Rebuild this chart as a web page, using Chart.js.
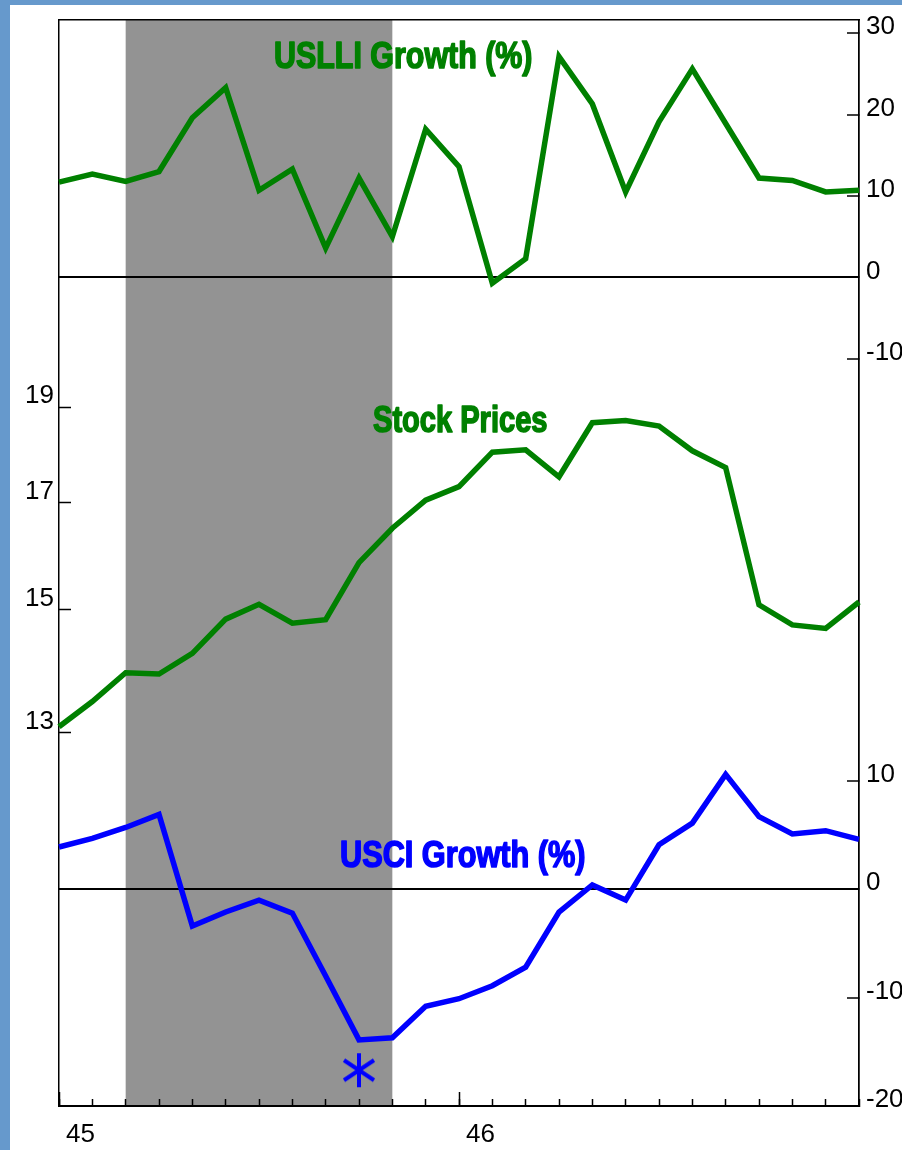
<!DOCTYPE html>
<html>
<head>
<meta charset="utf-8">
<script src="https://cdn.jsdelivr.net/npm/chart.js@4.4.1/dist/chart.umd.min.js"></script>
<style>
  html, body { margin: 0; padding: 0; }
  body { background: #6699cc; width: 902px; height: 1150px; overflow: hidden; position: relative; }
  #wrap { position: absolute; left: 10px; top: 5px; width: 892px; height: 1145px; background: #fff; }
</style>
</head>
<body>
<div id="wrap"><canvas id="chart"></canvas></div>
<script>
// monthly points, Jan 45 .. Jan 47
const months = [
  'Jan 45', 'Feb 45', 'Mar 45', 'Apr 45', 'May 45', 'Jun 45', 'Jul 45', 'Aug 45', 'Sep 45', 'Oct 45', 'Nov 45', 'Dec 45',
  'Jan 46', 'Feb 46', 'Mar 46', 'Apr 46', 'May 46', 'Jun 46', 'Jul 46', 'Aug 46', 'Sep 46', 'Oct 46', 'Nov 46', 'Dec 46',
  'Jan 47'
];
const xTickLabels = ['45', '', '', '', '', '', '', '', '', '', '', '',
                     '46', '', '', '', '', '', '', '', '', '', '', '', ''];

const uslliGrowth = [11.7, 12.7, 11.8, 13.0, 19.6, 23.3, 10.7, 13.3, 3.6, 12.2, 5.0, 18.2,
                     13.6, -0.7, 2.3, 27.1, 21.3, 10.5, 19.1, 25.6, 18.9, 12.2, 11.9, 10.5, 10.7];
const stockPrices = [13.09, 13.48, 13.94, 13.92, 14.26, 14.84, 15.10, 14.77, 14.83, 15.85, 16.50, 17.05,
                     17.32, 18.03, 18.08, 17.52, 18.66, 18.71, 18.59, 18.06, 17.71, 15.09, 14.74, 14.68, 15.14];
const usciGrowth = [3.9, 4.7, 5.7, 6.9, -3.4, -2.1, -1.0, -2.2, -8.0, -13.9, -13.7, -10.8,
                    -10.1, -8.9, -7.2, -2.1, 0.4, -1.0, 4.1, 6.1, 10.6, 6.7, 5.1, 5.4, 4.6];
// asterisk below the USCI trough
const troughMark = [null, null, null, null, null, null, null, null, null, -16.7, null, null,
                    null, null, null, null, null, null, null, null, null, null, null, null, null];

const recession = ['Mar 45', 'Nov 45'];

const uslliTicks = [-10, 0, 10, 20, 30];
const usciTicks = [-20, -10, 0, 10];
const stockTicks = [13, 15, 17, 19];

const uslliRange = [-101.7, 31.6];
const usciRange = [-20, 80.2];
const stockRange = [8.41, 29.85];

const GREEN = '#008000';
const BLUE = '#0000ff';

Chart.defaults.font.family = '"Liberation Sans", Arial, sans-serif';
Chart.defaults.font.size = 26;
Chart.defaults.color = '#000';

function makeAsterisk() {
  const c = document.createElement('canvas');
  c.width = 36; c.height = 36;
  const g = c.getContext('2d');
  g.strokeStyle = BLUE;
  g.lineWidth = 4;
  g.beginPath();
  g.moveTo(18, 1); g.lineTo(18, 35);
  g.moveTo(3, 8); g.lineTo(33, 28);
  g.moveTo(3, 28); g.lineTo(33, 8);
  g.stroke();
  return c;
}

// fixed box sizes so the plot area sits where the original one does
function fixSize(w, h) {
  return scale => {
    if (w !== null) scale.width = w;
    if (h !== null) scale.height = h;
    scale.paddingTop = scale.paddingBottom = scale.paddingLeft = scale.paddingRight = 0;
  };
}

const zeroLine = c => (c.tick && c.tick.value === 0) ? '#000' : 'rgba(0,0,0,0)';

// both right axes share one line: yC takes no room in the layout, then
// borrows yL's box so its labels are not clipped away
const sharedRightAxis = {
  id: 'sharedRightAxis',
  afterLayout(chart) {
    const c = chart.scales.yC, l = chart.scales.yL;
    c.left = l.left;
    c.right = l.right;
    c.width = l.width;
  }
};

const shading = {
  id: 'shading',
  beforeDraw(chart) {
    const {ctx, chartArea, scales} = chart;
    const x0 = scales.x.getPixelForValue(months.indexOf(recession[0]));
    const x1 = scales.x.getPixelForValue(months.indexOf(recession[1]));
    ctx.save();
    ctx.fillStyle = '#939393';
    ctx.fillRect(x0, chartArea.top, x1 - x0, chartArea.bottom - chartArea.top);
    ctx.restore();
  }
};

const titleLayout = [
  { text: 'USLLI Growth (%)', color: GREEN, x: 264, y: 63, w: 260 },
  { text: 'Stock Prices', color: GREEN, x: 363, y: 427, w: 176 },
  { text: 'USCI Growth (%)', color: BLUE, x: 330, y: 862, w: 247 }
];

const seriesTitles = {
  id: 'seriesTitles',
  afterDatasetsDraw(chart) {
    const ctx = chart.ctx;
    titleLayout.forEach(t => {
      ctx.save();
      ctx.font = 'bold 36px "Liberation Sans", Arial, sans-serif';
      const sx = (t.w - 1.5) / ctx.measureText(t.text).width;
      ctx.translate(t.x, t.y);
      ctx.scale(sx, 1);
      ctx.fillStyle = t.color;
      ctx.strokeStyle = t.color;
      ctx.lineWidth = 1.6;
      ctx.lineJoin = 'round';
      ctx.textBaseline = 'alphabetic';
      ctx.strokeText(t.text, 0, 0);
      ctx.fillText(t.text, 0, 0);
      ctx.restore();
    });
  }
};

const lineStyle = { borderWidth: 5.5, pointRadius: 0, tension: 0, fill: false };

new Chart(document.getElementById('chart'), {
  type: 'line',
  data: {
    labels: months,
    datasets: [
      { label: 'USLLI Growth (%)', data: uslliGrowth, yAxisID: 'yL', borderColor: GREEN, ...lineStyle },
      { label: 'Stock Prices', data: stockPrices, yAxisID: 'yS', borderColor: GREEN, ...lineStyle },
      { label: 'USCI Growth (%)', data: usciGrowth, yAxisID: 'yC', borderColor: BLUE, ...lineStyle },
      { label: 'trough', data: troughMark, yAxisID: 'yC', showLine: false,
        pointStyle: makeAsterisk(), pointRadius: 4, borderColor: BLUE, backgroundColor: BLUE }
    ]
  },
  options: {
    responsive: true,
    maintainAspectRatio: false,
    animation: false,
    layout: { padding: { top: 15, left: 0, right: 0, bottom: 0 } },
    plugins: { legend: { display: false }, tooltip: { enabled: false } },
    scales: {
      x: {
        type: 'category', position: 'bottom', weight: 1,
        grid: { drawOnChartArea: false, tickLength: -7, tickColor: '#000', tickWidth: 1.5 },
        border: { display: true, color: '#000', width: 2 },
        ticks: { autoSkip: false, maxRotation: 0, minRotation: 0, align: 'start', labelOffset: 7,
                 padding: 20, callback: (v, i) => xTickLabels[i] },
        afterFit: fixSize(null, 44)
      },
      xLong: {
        type: 'category', position: 'bottom', weight: 0,
        grid: { drawOnChartArea: false, tickLength: -14, tickWidth: 1.5,
                tickColor: c => xTickLabels[c.index] ? '#000' : 'rgba(0,0,0,0)' },
        border: { display: false },
        ticks: { display: false, autoSkip: false },
        afterFit: fixSize(null, 0)
      },
      xTop: {
        type: 'category', position: 'top',
        grid: { drawOnChartArea: false, drawTicks: false },
        border: { display: true, color: '#000', width: 1.5 },
        ticks: { display: false },
        afterFit: fixSize(null, 0)
      },
      yS: {
        type: 'logarithmic', position: 'left',
        min: stockRange[0], max: stockRange[1],
        afterBuildTicks: s => { s.ticks = stockTicks.map(v => ({ value: v })); },
        grid: { drawOnChartArea: false, tickLength: -12, tickColor: '#000', tickWidth: 1.5 },
        border: { display: true, color: '#000', width: 1.5 },
        ticks: { padding: 17, labelOffset: -11, callback: v => String(v) },
        afterFit: fixSize(49, null)
      },
      yC: {
        type: 'linear', position: 'right', weight: 0,
        min: usciRange[0], max: usciRange[1],
        afterBuildTicks: s => { s.ticks = usciTicks.map(v => ({ value: v })); },
        grid: { drawOnChartArea: true, color: zeroLine, lineWidth: 2,
                tickLength: -12, tickColor: '#000', tickWidth: 1.5 },
        border: { display: true, color: '#000', width: 1.5 },
        ticks: { padding: 19, labelOffset: -6, callback: v => String(v) },
        afterFit: fixSize(0, null)
      },
      yL: {
        type: 'linear', position: 'right', weight: 1,
        min: uslliRange[0], max: uslliRange[1],
        afterBuildTicks: s => { s.ticks = uslliTicks.map(v => ({ value: v })); },
        grid: { drawOnChartArea: true, color: zeroLine, lineWidth: 2,
                tickLength: -12, tickColor: '#000', tickWidth: 1.5 },
        border: { display: true, color: '#000', width: 1.5 },
        ticks: { padding: 19, labelOffset: -6, callback: v => String(v) },
        afterFit: fixSize(43, null)
      }
    }
  },
  plugins: [sharedRightAxis, shading, seriesTitles]
});
</script>
</body>
</html>
